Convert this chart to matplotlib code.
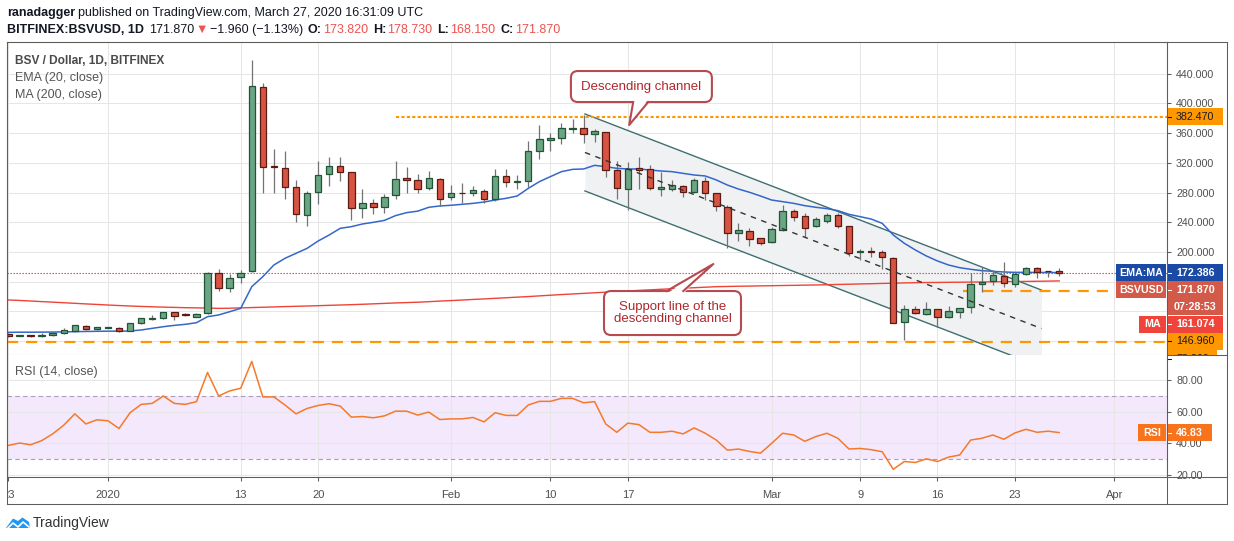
import numpy as np
import pandas as pd
import matplotlib.pyplot as plt
import matplotlib.dates as mdates
from matplotlib.patches import Rectangle, FancyBboxPatch, Polygon
from matplotlib.lines import Line2D
from matplotlib.text import Annotation
from matplotlib.transforms import IdentityTransform, Bbox

plt.rcParams['font.family'] = ['Liberation Sans', 'DejaVu Sans']

W, H = 1234, 541

# daily candles BSV/USD, 23 Dec 2019 -> 27 Mar 2020
dates = pd.date_range('2019-12-23', '2020-03-27', freq='D')
opens = [89.6, 87.3, 87.2, 87.0, 87.8, 90.5, 94.1, 100.3, 95.9,
         97.8, 97.6, 93.6, 103.9, 109.3, 110.7, 118.7, 115.5, 112.9, 117.4,
         171.3, 151.1, 165.9, 174.4, 421.8, 315.8, 312.7, 287.1, 249.8, 280.4,
         304.6, 315.4, 307.3, 258.8, 265.5, 260.2, 276.3, 299.2, 297.0, 286.6,
         297.9, 273.6, 279.5, 279.0, 281.7, 270.9, 301.9, 293.8, 295.2, 335.6,
         350.4, 353.1, 365.7, 366.6, 358.5, 361.2, 310.4, 284.4, 312.7, 311.3,
         285.3, 285.3, 288.4, 281.3, 295.6, 279.0, 260.2, 225.1, 228.3, 218.4,
         213.0, 229.2, 255.2, 248.0, 234.6, 242.2, 249.4, 234.6, 200.0, 201.3,
         199.6, 191.5, 106.2, 122.8, 116.0, 122.8, 112.0, 119.6, 125.5, 156.5,
         161.4, 168.1, 156.9, 169.9, 178.0, 174.2, 173.82]
highs = [90.5, 88.0, 88.0, 90.5, 92.0, 98.1, 101.8, 101.5, 99.5,
         99.0, 98.5, 104.5, 111.5, 114.7, 119.5, 119.5, 117.5, 117.5, 173.5,
         176.7, 170.4, 175.8, 458.6, 427.2, 338.7, 336.5, 297.0, 282.2, 322.6,
         327.5, 327.5, 307.8, 284.8, 271.4, 278.1, 323.0, 314.0, 304.6, 309.1,
         299.0, 290.2, 292.5, 288.9, 284.8, 311.8, 311.3, 303.7, 349.5, 371.0,
         359.8, 373.3, 378.7, 384.5, 365.2, 362.1, 323.0, 320.8, 327.5, 316.7,
         308.2, 297.0, 290.7, 299.2, 300.6, 279.5, 263.3, 238.6, 231.9, 218.8,
         233.2, 263.3, 257.5, 253.0, 247.6, 252.1, 253.0, 235.5, 203.6, 206.3,
         202.7, 192.8, 128.2, 127.3, 132.2, 123.2, 127.3, 124.5, 172.2, 180.2,
         175.8, 186.1, 173.5, 180.2, 180.2, 174.4, 178.73]
lows = [86.0, 86.5, 86.0, 85.1, 87.0, 89.6, 93.0, 94.5, 95.0,
        97.0, 92.5, 93.0, 103.0, 108.4, 110.0, 108.4, 113.5, 112.0, 116.0,
        147.9, 146.6, 157.8, 173.0, 279.9, 279.9, 270.9, 240.9, 235.5, 264.2,
        289.3, 295.2, 243.1, 245.3, 250.7, 253.0, 271.4, 279.0, 279.9, 283.5,
        262.0, 270.0, 265.5, 275.4, 265.5, 268.7, 288.0, 284.8, 288.0, 325.7,
        336.5, 345.0, 360.7, 347.3, 348.6, 301.5, 270.9, 256.6, 285.3, 283.5,
        275.4, 282.2, 274.5, 279.0, 270.0, 255.7, 205.8, 215.3, 208.5, 209.9,
        212.5, 228.8, 241.3, 220.7, 234.2, 238.6, 231.9, 194.6, 189.2, 193.7,
        177.1, 103.9, 81.5, 116.5, 115.6, 98.5, 111.6, 110.7, 118.3, 146.6,
        155.6, 153.3, 153.3, 169.0, 165.4, 166.8, 168.15]
closes = [86.9, 87.5, 86.9, 87.5, 90.5, 95.0, 101.2, 95.9, 98.5,
          98.2, 93.6, 103.9, 110.7, 111.1, 118.7, 114.3, 115.2, 116.5, 171.3,
          151.1, 164.5, 172.2, 423.6, 314.0, 314.0, 287.1, 251.2, 279.9, 303.3,
          315.4, 307.3, 258.8, 265.5, 261.1, 274.1, 297.9, 296.5, 285.3, 299.2,
          271.8, 279.0, 279.0, 283.5, 270.9, 301.9, 293.8, 295.6, 335.6, 351.7,
          353.1, 366.6, 366.6, 358.5, 363.0, 310.0, 285.7, 311.8, 310.0, 286.6,
          287.1, 289.8, 280.8, 296.5, 279.0, 262.0, 225.1, 229.2, 218.0, 212.6,
          230.5, 254.8, 247.6, 231.9, 244.0, 249.4, 234.6, 198.2, 201.8, 199.6,
          192.8, 104.8, 122.8, 117.4, 122.8, 112.0, 120.1, 124.1, 156.5, 160.0,
          168.6, 157.8, 170.4, 178.0, 173.5, 173.8, 171.87]

ema20 = [91.8, 92.0, 92.0, 92.1, 92.2, 92.4, 92.7, 93.0, 93.2, 93.4,
         93.4, 93.6, 95.0, 97.2, 99.4, 101.2, 102.6, 104.8, 112.9, 115.2,
         119.6, 124.1, 153.3, 166.8, 182.5, 191.5, 198.2, 204.9, 214.8, 222.9,
         231.9, 234.1, 237.7, 240.0, 242.6, 249.0, 253.0, 255.0, 260.2, 262.0,
         262.9, 264.2, 265.5, 267.3, 270.0, 272.3, 275.4, 285.7, 294.7, 301.5,
         308.2, 311.3, 311.8, 316.7, 314.9, 312.7, 311.8, 311.8, 310.4, 309.1,
         308.2, 305.9, 303.7, 302.4, 297.0, 290.2, 284.8, 280.4, 275.4, 270.0,
         267.8, 265.5, 262.4, 260.2, 258.4, 255.7, 250.7, 247.6, 244.4, 238.6,
         222.9, 211.7, 202.7, 194.6, 187.9, 182.5, 178.9, 176.7, 174.9, 174.0,
         173.1, 172.6, 172.6, 172.5, 172.4, 172.386]
ma200 = [135.4, 134.8, 134.0, 133.2, 132.5, 131.7, 130.9, 130.1, 129.4, 128.6,
         127.9, 127.3, 126.7, 126.2, 125.8, 125.4, 125.0,
         124.8, 124.5, 124.1, 124.3, 124.8, 125.2,
         125.6, 126.0, 126.5, 126.9, 127.3, 127.7, 128.2,
         128.6, 129.1, 129.6, 130.2, 130.8, 131.4, 131.9, 132.4,
         133.1, 133.9, 134.6, 135.3, 136.1, 136.8, 137.6, 138.4, 139.2, 140.0,
         140.9, 141.8, 142.7, 143.5,
         144.3, 145.1, 145.9, 146.7, 147.5, 148.3, 149.0, 149.8, 150.5, 151.2,
         151.9, 152.6, 153.3,
         153.6, 153.9, 154.1, 154.4, 154.6, 154.9, 155.1, 155.4, 155.6,
         155.9, 156.3, 156.6, 157.0, 157.3, 157.7, 158.0, 158.4, 158.7,
         158.9, 159.0, 159.2, 159.3, 159.5, 159.6,
         159.8, 160.0, 160.2, 160.4, 160.6, 160.8, 161.074]
rsi14 = [38.7, 40.2, 39.1, 41.7, 46.0, 51.5, 58.7, 52.3, 54.9, 54.3,
         49.4, 59.4, 64.7, 65.3, 70.0, 65.3, 64.7, 66.4, 84.9, 70.0,
         73.2, 74.9, 91.9, 69.4, 69.4, 64.3, 58.7, 62.1, 64.0, 65.1,
         63.6, 56.6, 57.0, 56.2, 57.4, 60.4, 60.4, 57.9, 59.8, 55.1,
         55.5, 55.5, 56.4, 53.6, 59.4, 57.7, 57.7, 64.3, 66.6, 66.6,
         68.5, 68.5, 65.7, 66.4,
         52.3, 47.0, 52.8, 51.9, 47.0, 47.0, 47.7, 46.0, 49.8, 46.4,
         42.1, 35.7, 36.4, 34.9, 33.8, 40.0, 46.4, 45.3, 41.3, 44.3,
         46.4, 43.2, 36.4, 36.8, 36.0, 34.7, 23.6, 28.5, 27.9, 30.2,
         28.5, 31.3, 32.6, 42.1, 43.2, 45.3, 42.6, 46.6, 48.9, 47.0,
         47.7, 46.83]

tick_dates = ['2019-12-23', '2020-01-01', '2020-01-13', '2020-01-20', '2020-02-01',
              '2020-02-10', '2020-02-17', '2020-03-01', '2020-03-09', '2020-03-16',
              '2020-03-23', '2020-04-01']
tick_labels = ['23', '2020', '13', '20', 'Feb', '10', '17', 'Mar', '9', '16', '23', 'Apr']
price_ticks = [80, 120, 160, 200, 240, 280, 320, 360, 400, 440]
price_labels = ['', '', '', '200.000', '240.000', '280.000', '320.000', '360.000',
                '400.000', '440.000']
rsi_ticks = [20, 40, 60, 80]
rsi_labels = ['20.00', '40.00', '60.00', '80.00']

# drawings
resistance, resistance_from = 382.47, '2020-01-27'
support_hi, support_hi_from = 146.96, '2020-03-18 07:00'
support_lo = 78.8
last_close = 171.87
channel_t = ['2020-02-13 03:00', '2020-03-25 09:36']
channel_top = [385.9, 148.8]
channel_width = 103.7

o = np.array(opens); h = np.array(highs); l = np.array(lows); c = np.array(closes)
x = mdates.date2num(dates)
jan1 = mdates.date2num(pd.Timestamp('2020-01-01'))

fig = plt.figure(figsize=(W / 100, H / 100), dpi=100)


def fx(px):
    return px / W


def fy(py):
    return 1 - py / H


ax = fig.add_axes([fx(7), fy(355), fx(1167) - fx(7), fy(42) - fy(355)])
rx = fig.add_axes([fx(7), fy(477), fx(1167) - fx(7), fy(355) - fy(477)], sharex=ax)

GRID = '#e6e6e6'
SPINE = '#5d5d5d'
LABEL = '#4f4f4f'

ax.set_xlim(jan1 - 9.13, jan1 + 95.75)
ax.set_ylim(61.3, 482.8)
rx.set_ylim(18.7, 95.95)

ticks = mdates.date2num(pd.to_datetime(tick_dates))
rx.set_xticks(ticks)
rx.set_xticklabels(tick_labels)
ax.tick_params(axis='x', bottom=False, labelbottom=False)

ax.yaxis.tick_right()
ax.set_yticks(price_ticks)
ax.set_yticklabels(price_labels)
rx.yaxis.tick_right()
rx.set_yticks(rsi_ticks)
rx.set_yticklabels(rsi_labels)

for a in (ax, rx):
    a.set_axisbelow(True)
    a.grid(True, color=GRID, lw=0.75)
    a.tick_params(axis='y', length=3, width=0.75, color=SPINE, labelsize=7.7,
                  labelcolor=LABEL, pad=3.5)
    for s in a.spines.values():
        s.set_color(SPINE)
        s.set_linewidth(0.75)
rx.spines['top'].set_visible(False)
rx.tick_params(axis='x', length=3, width=0.75, color=SPINE, labelsize=8,
               labelcolor=LABEL, pad=6)

# channel
ct = mdates.date2num(pd.to_datetime(channel_t))
top = np.array(channel_top)
ax.fill_between(ct, top, top - channel_width, color='#eff1f3', zorder=1, lw=0)
ax.plot(ct, top, color='#3f6f70', lw=1.0, zorder=2)
ax.plot(ct, top - channel_width, color='#3f6f70', lw=1.0, zorder=2)
ax.plot(ct, top - channel_width / 2, color='#333333', lw=1.0, dashes=(4, 4), zorder=6)

# horizontal levels
ax.axhline(last_close, color='#e53935', lw=0.8, dashes=(1.2, 1.5), zorder=2)
ax.hlines(resistance, mdates.date2num(pd.Timestamp(resistance_from)), jan1 + 95.75,
          color='#ff9800', lw=1.5, linestyles=[(0, (1.5, 1.1))], zorder=2)
ax.hlines(support_hi, mdates.date2num(pd.Timestamp(support_hi_from)), jan1 + 95.75,
          color='#ff9800', lw=1.6, linestyles=[(0, (5, 3.6))], zorder=2)
ax.axhline(support_lo, color='#ff9800', lw=1.6, dashes=(5, 3.6), zorder=2)

# moving averages
ax.plot(x, ma200, color='#ee4437', lw=1.0, zorder=3)
ax.plot(x, ema20, color='#3467c8', lw=1.1, zorder=3)

# candles
up = c >= o
lo_b = np.minimum(o, c)
hgt = np.maximum(np.abs(c - o), 1.0)
ax.vlines(x, l, h, color='#737375', lw=0.9, zorder=4)
ax.bar(x[up], hgt[up], bottom=lo_b[up], width=0.58, color='#6ba583',
       edgecolor='#225437', linewidth=0.9, zorder=5)
ax.bar(x[~up], hgt[~up], bottom=lo_b[~up], width=0.58, color='#d75442',
       edgecolor='#5b1a13', linewidth=0.9, zorder=5)

# RSI
rx.axhspan(30, 70, color='#f4e8fc', zorder=0.2, lw=0)
for v in (30, 70):
    rx.axhline(v, color='#aa9fb8', lw=0.8, dashes=(4, 3), zorder=1)
rx.plot(x, rsi14, color='#f5792b', lw=1.1, zorder=3)

# panel legends
fig.text(fx(15), fy(60.5), 'BSV / Dollar, 1D, BITFINEX', fontsize=8.6, fontweight='bold',
         color='#4a4a4a', va='center')
fig.text(fx(15), fy(78), 'EMA (20, close)', fontsize=9, color='#555555', va='center')
fig.text(fx(15), fy(95), 'MA (200, close)', fontsize=9, color='#555555', va='center')
fig.text(fx(15), fy(372), 'RSI (14, close)', fontsize=9, color='#555555', va='center')


# header lines
def chain(parts, px, py, size=9):
    prev = None
    for s, weight, color, gap in parts:
        if prev is None:
            prev = fig.text(fx(px), fy(py), s, fontsize=size, fontweight=weight,
                            color=color, va='center', ha='left')
        else:
            prev = Annotation(s, xy=(1, 0), xycoords=prev, xytext=(gap, 0),
                              textcoords='offset pixels', fontsize=size,
                              fontweight=weight, color=color, va='bottom', ha='left')
            fig.add_artist(prev)


DARK = '#131722'
RED = '#ef5350'
chain([('ranadagger', 'bold', DARK, 0),
       ('published on TradingView.com, March 27, 2020 16:31:09 UTC', 'normal', DARK, 3)],
      7, 13)
chain([('BITFINEX:BSVUSD, 1D', 'bold', DARK, 0),
       ('171.870', 'normal', DARK, 5),
       ('\u25bc', 'normal', RED, 1),
       ('\u22121.960 (\u22121.13%)', 'normal', DARK, 2),
       ('O:', 'bold', DARK, 5), ('173.820', 'normal', RED, 1),
       ('H:', 'bold', DARK, 5), ('178.730', 'normal', RED, 1),
       ('L:', 'bold', DARK, 5), ('168.150', 'normal', RED, 1),
       ('C:', 'bold', DARK, 5), ('171.870', 'normal', RED, 1)],
      7, 30)

ID = IdentityTransform()


# callouts
def callout(lines, tip_t, tip_v, dx, dy, w, hh, b0, b1):
    tx, ty = ax.transData.transform((mdates.date2num(pd.Timestamp(tip_t)), tip_v))
    cx, cy = tx + dx, ty + dy
    ec = '#b54a4f'
    box = FancyBboxPatch((cx - w / 2, cy - hh / 2), w, hh,
                         boxstyle='round,pad=0,rounding_size=7', transform=ID,
                         fc='white', ec=ec, lw=1.5, zorder=5)
    fig.add_artist(box)
    edge = cy - hh / 2 if dy > 0 else cy + hh / 2
    inset = 2.5 if dy > 0 else -2.5
    tri = Polygon([(cx + b0, edge + inset), (tx, ty), (cx + b1, edge + inset)],
                  closed=True, transform=ID, fc='white', ec='none', zorder=5.1)
    fig.add_artist(tri)
    fig.add_artist(Line2D([cx + b0, tx, cx + b1], [edge, ty, edge], transform=ID,
                          color=ec, lw=1.5, zorder=5.2))
    fig.text(cx, cy, '\n'.join(lines), transform=ID, ha='center', va='center',
             fontsize=9.5, color='#b0262c', linespacing=1.0, zorder=5.3)


callout(['Descending channel'], '2020-02-17 03:00', 371.0, 12.2, 38.5, 141, 31, -8.2, 6.8)
callout(['Support line of the', 'descending channel'], '2020-02-24 17:30', 183.8,
        -40.8, -49, 137, 44, -5.8, 10.8)


# price scale tags
def tag(x0, x1, yc, text, fc, tc, bold=True, centre=False, tick=False, clip=None):
    r = Rectangle((fx(x0), fy(yc + 8.5)), fx(x1) - fx(x0), 17 / H,
                  transform=fig.transFigure, fc=fc, ec='none', zorder=6)
    fig.add_artist(r)
    if centre:
        t = fig.text(fx((x0 + x1) / 2), fy(yc), text, ha='center', va='center',
                     fontsize=7.7, color=tc, fontweight='bold' if bold else 'normal',
                     zorder=7)
    else:
        t = fig.text(fx(x0 + 9), fy(yc), text, ha='left', va='center', fontsize=7.7,
                     color=tc, fontweight='bold' if bold else 'normal', zorder=7)
    if tick:
        fig.add_artist(Line2D([fx(x0), fx(x0 + 4)], [fy(yc), fy(yc)],
                              transform=fig.transFigure, color=tc, lw=0.75, zorder=7))
    if clip is not None:
        cb = Bbox([[0, H - clip], [W, H]])
        for art in (r, t):
            art.set_clip_box(cb)
            art.set_clip_on(True)


def ypx(a, v):
    return H - a.transData.transform((jan1, v))[1]


tag(1167, 1223, ypx(ax, resistance), '382.470', '#ff9800', '#1a1a1a', bold=False, tick=True)
y0 = ypx(ax, ema20[-1])
stack = [('EMA:MA', '%.3f' % ema20[-1], '#1a4aa5', '#ffffff'),
         ('BSVUSD', '%.3f' % last_close, '#d35a48', '#ffffff'),
         (None, '07:28:53', '#d35a48', '#ffffff'),
         ('MA', '%.3f' % ma200[-1], '#f0443a', '#ffffff'),
         (None, '%.3f' % support_hi, '#ff9800', '#1a1a1a'),
         (None, '%.3f' % support_lo, '#ff9800', '#1a1a1a')]
widths = {'EMA:MA': 1116, 'BSVUSD': 1116, 'MA': 1139}
for i, (name, val, fc, tc) in enumerate(stack):
    yc = y0 + i * 17.2
    is_orange = fc == '#ff9800'
    clip = 355 if i == len(stack) - 1 else None
    if name:
        tag(widths[name], 1166, yc, name, fc, tc, centre=True)
    if val == '07:28:53':
        tag(1167, 1223, yc, val, fc, tc, centre=True)
    else:
        tag(1167, 1223 if i < len(stack) - 1 else 1217, yc, val, fc, tc,
            bold=not is_orange, tick=True, clip=clip)

yr = ypx(rx, rsi14[-1])
tag(1138, 1166, yr, 'RSI', '#f7731c', '#ffffff', centre=True)
tag(1167, 1212, yr, '%.2f' % rsi14[-1], '#f7731c', '#ffffff', tick=True)

# outer frame
frame = [([7, 1227], [42, 42]), ([7, 1227], [504, 504]), ([7, 7], [42, 504]),
         ([1227, 1227], [42, 504]), ([1167, 1167], [42, 504]),
         ([1167, 1227], [355, 355]), ([1167, 1227], [477, 477])]
fig.add_artist(Rectangle((0, fy(503)), fx(6.6), 25 / H, transform=fig.transFigure,
                         fc='white', ec='none', zorder=1))
for xs, ys in frame:
    fig.add_artist(Line2D([fx(v) for v in xs], [fy(v) for v in ys],
                          transform=fig.transFigure, color=SPINE, lw=0.75, zorder=8))

# TradingView logo
fig.add_artist(Polygon([(fx(6), fy(528)), (fx(13), fy(518.5)), (fx(18), fy(521)),
                        (fx(22.5), fy(517.5)), (fx(29), fy(522)), (fx(30), fy(528))],
                       closed=True, transform=fig.transFigure, fc='#2196f3', ec='none'))
fig.add_artist(Line2D([fx(8), fx(13), fx(18), fx(23), fx(29)],
                      [fy(528), fy(523), fy(527), fy(522), fy(527)],
                      transform=fig.transFigure, color='white', lw=1.2))
fig.text(fx(33), fy(523), 'TradingView', fontsize=10, color='#333333', va='center')

fig.savefig('out.png', dpi=100)
